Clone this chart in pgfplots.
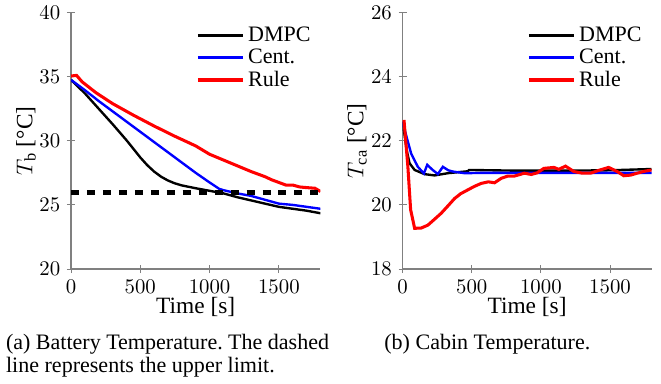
\documentclass[border=0pt]{standalone}
\usepackage{pgfplots}
\pgfplotsset{compat=1.18}
\usepackage{fontspec}
\setmainfont{Liberation Serif}
\frenchspacing

\pgfplotstableread{
t T
0 34.75
100 33.7
200 32.5
300 31.3
400 30.05
450 29.38
500 28.7
550 28.1
600 27.6
650 27.2
700 26.9
750 26.68
800 26.52
900 26.3
1000 26.1
1100 25.9
1200 25.6
1300 25.35
1400 25.1
1500 24.85
1600 24.7
1700 24.55
1800 24.35
}\bdmpc

\pgfplotstableread{
t T
0 34.75
100 33.95
200 33.1
300 32.3
400 31.5
500 30.7
600 29.9
700 29.1
800 28.3
900 27.5
1000 26.75
1070 26.25
1100 26.15
1200 25.9
1300 25.7
1400 25.4
1500 25.1
1600 25.0
1700 24.85
1800 24.7
}\bcent

\pgfplotstableread{
t T
0 35.05
40 35.1
80 34.6
180 33.75
300 32.9
450 32.0
600 31.15
750 30.35
900 29.6
1000 28.95
1100 28.5
1200 28.05
1300 27.6
1400 27.2
1450 26.95
1500 26.75
1550 26.55
1600 26.55
1650 26.4
1700 26.35
1760 26.3
1800 26.05
}\brule

\pgfplotstableread{
t T
0 22.6
30 21.7
50 21.3
87 21.09
159 20.96
231 20.92
328 20.99
472 21.05
480 21.09
800 21.07
1200 21.07
1500 21.08
1800 21.12
}\cdmpc

\pgfplotstableread{
t T
0 22.6
30 22.1
62 21.6
110 21.19
154 20.98
178 21.25
215 21.1
255 20.96
291 21.19
330 21.08
364 21.04
448 20.99
600 21.0
1000 21.0
1500 21.0
1800 21.0
}\ccent

\pgfplotstableread{
t T
10 22.65
38 21.2
58 19.85
87 19.27
135 19.28
183 19.37
230 19.55
279 19.74
330 19.98
376 20.2
420 20.35
472 20.47
520 20.58
568 20.67
620 20.72
665 20.69
713 20.83
761 20.9
809 20.9
857 20.96
880 20.99
930 20.95
973 21.0
1022 21.14
1094 21.17
1130 21.11
1178 21.21
1239 21.04
1300 20.99
1359 20.99
1420 21.08
1490 21.17
1552 21.04
1600 20.91
1650 20.93
1696 20.99
1750 21.05
1800 21.09
}\crule

\pgfplotsset{
  myax/.style={
    scale only axis,
    width=131.3pt, height=135pt,
    axis lines=left,
    axis line style={-, gray, line width=0.6pt},
    major tick style={gray, line width=0.5pt},
    tick align=center,
    xmin=0, xmax=1800,
    xtick={0,500,1000,1500},
    /pgf/number format/1000 sep={},
    tick label style={font=\fontsize{11.3}{13}\selectfont},
    xlabel={Time [s]},
    xlabel style={at={(axis description cs:0.5,0)}, anchor=base, yshift=-23.5pt,
      font=\fontsize{12.3}{14}\selectfont},
    ylabel style={at={(axis description cs:0,0.5)}, anchor=center, yshift=23.7pt,
      font=\fontsize{12.3}{14}\selectfont},
    legend style={draw=none, fill=none, at={(1.0,0.975)}, anchor=north east,
      font=\fontsize{11.6}{13}\selectfont, row sep=-1.6pt},
    legend cell align=left,
    legend image code/.code={\draw[##1] (0pt,0pt) -- (23.7pt,0pt);},
  },
  dmpc/.style={black, line width=1.25pt},
  cent/.style={blue, line width=1.25pt},
  rule/.style={red, line width=1.6pt},
}

\begin{document}
\begin{tikzpicture}
\path[use as bounding box] (0,0) rectangle (347.9pt,201.6pt);
\begin{axis}[myax, at={(37.37pt,60pt)}, anchor=south west,
  ymin=20, ymax=40, ytick={20,25,30,35,40},
  ylabel={$T_\mathrm{b}$ [°C]}]
\addplot[dmpc] table[x=t,y=T] {\bdmpc};
\addlegendentry{DMPC}
\addplot[cent] table[x=t,y=T] {\bcent};
\addlegendentry{Cent.}
\addplot[rule] table[x=t,y=T] {\brule};
\addlegendentry{Rule}
\addplot[black, line width=2.7pt, dash pattern=on 4.2pt off 4.2pt, forget plot] coordinates {(0,26) (1800,26)};
\end{axis}
\begin{axis}[myax, at={(211.9pt,60pt)}, anchor=south west, width=131pt,
  ylabel style={yshift=0.3pt},
  ymin=18, ymax=26, ytick={18,20,22,24,26},
  ylabel={$T_\mathrm{ca}$ [°C]}]
\addplot[dmpc] table[x=t,y=T] {\cdmpc};
\addlegendentry{DMPC}
\addplot[cent] table[x=t,y=T] {\ccent};
\addlegendentry{Cent.}
\addplot[rule] table[x=t,y=T] {\crule};
\addlegendentry{Rule}
\end{axis}
\begin{scope}[every node/.style={font=\fontsize{11.6}{13}\selectfont, inner sep=0pt, anchor=base west}]
\node at (3pt,17.9pt) {\makebox[170pt][s]{(a) Battery Temperature. The dashed}};
\node at (3pt,5.8pt) {line represents the upper limit.};
\node at (202.1pt,17.9pt) {(b) Cabin Temperature.};
\end{scope}
\end{tikzpicture}
\end{document}
